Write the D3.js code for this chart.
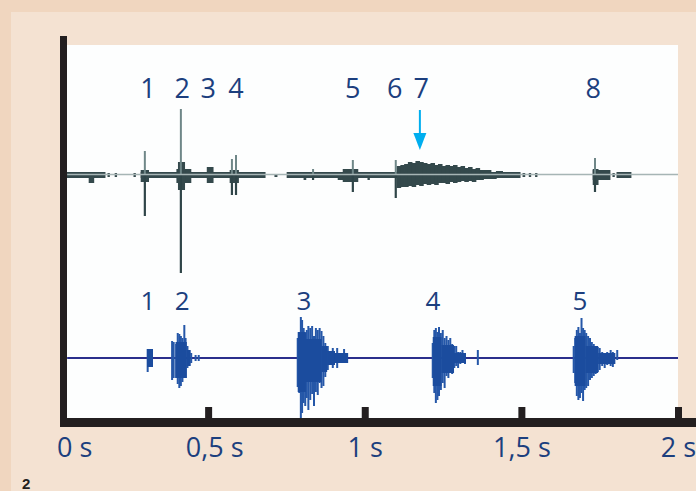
<!DOCTYPE html>
<html><head><meta charset="utf-8">
<script src="https://cdn.jsdelivr.net/npm/d3@7"></script>
<style>body{margin:0;background:#f0d6bf;} svg{display:block}</style>
</head><body><svg id="c" width="696" height="491"></svg>
<script>
// ---------- data ----------
const timeTicks = [0, 0.5, 1, 1.5, 2];
const tickLabels = ["0 s", "0,5 s", "1 s", "1,5 s", "2 s"];
const traceSpan = [0.05, 2.0];

const topLabelText = ["1", "2", "3", "4", "5", "6", "7", "8"];
const topLabelTimes = [0.308, 0.417, 0.500, 0.589, 0.962, 1.096, 1.180, 1.729];
const arrowTime = 1.176;

const bottomLabelText = ["1", "2", "3", "4", "5"];
const bottomLabelTimes = [0.308, 0.417, 0.806, 1.218, 1.687];

// top trace blocks: [t0, t1, up, down] (relative amplitude)
const topBlocks = [
  [0.049, 0.171, 0.03, 0.03], [0.120, 0.135, 0.03, 0.08],
  [0.180, 0.185, 0.02, 0.02], [0.203, 0.208, 0.02, 0.02], [0.263, 0.268, 0.02, 0.02],
  [0.286, 0.682, 0.03, 0.03], [0.286, 0.310, 0.05, 0.07],
  [0.400, 0.445, 0.06, 0.08], [0.405, 0.425, 0.13, 0.15],
  [0.497, 0.516, 0.08, 0.08], [0.570, 0.597, 0.05, 0.08],
  [0.713, 0.720, 0.00, 0.02],
  [0.752, 1.496, 0.03, 0.03], [0.806, 0.812, 0.03, 0.05], [0.915, 0.930, 0.03, 0.05],
  [0.931, 0.978, 0.06, 0.07], [1.010, 1.015, 0.03, 0.05],
  [1.103, 1.115, 0.09, 0.13], [1.115, 1.127, 0.10, 0.12], [1.127, 1.139, 0.11, 0.12],
  [1.139, 1.151, 0.13, 0.11], [1.151, 1.163, 0.12, 0.12], [1.163, 1.175, 0.14, 0.10],
  [1.175, 1.187, 0.13, 0.11], [1.187, 1.199, 0.12, 0.09], [1.199, 1.211, 0.11, 0.10],
  [1.211, 1.223, 0.12, 0.09], [1.223, 1.235, 0.10, 0.10], [1.235, 1.247, 0.11, 0.08],
  [1.247, 1.259, 0.09, 0.08], [1.259, 1.271, 0.10, 0.09], [1.271, 1.283, 0.09, 0.07],
  [1.283, 1.295, 0.10, 0.08], [1.295, 1.307, 0.08, 0.07], [1.307, 1.319, 0.09, 0.06],
  [1.319, 1.331, 0.07, 0.07], [1.331, 1.343, 0.08, 0.06], [1.343, 1.355, 0.06, 0.07],
  [1.355, 1.367, 0.07, 0.05], [1.367, 1.379, 0.05, 0.05], [1.379, 1.403, 0.05, 0.04],
  [1.403, 1.420, 0.03, 0.04], [1.420, 1.440, 0.04, 0.03],
  [1.505, 1.511, 0.02, 0.02], [1.525, 1.530, 0.02, 0.02], [1.545, 1.550, 0.02, 0.02],
  [1.729, 1.783, 0.05, 0.05], [1.729, 1.745, 0.06, 0.10],
  [1.792, 1.797, 0.02, 0.02], [1.805, 1.850, 0.03, 0.03]
];
// top trace spikes: [t, up, down]
const topSpikes = [
  [0.298, 0.24, 0.41], [0.413, 0.66, 0.98], [0.576, 0.16, 0.20], [0.589, 0.20, 0.20],
  [0.835, 0.06, 0.05], [0.962, 0.15, 0.17], [1.099, 0.15, 0.23], [1.735, 0.17, 0.17]
];

// bottom trace cores: [t0, t1, up, down]
const bottomBlocks = [
  [0.305, 0.324, 0.09, 0.09],
  [0.396, 0.432, 0.16, 0.20], [0.432, 0.444, 0.08, 0.08],
  [0.786, 0.812, 0.26, 0.34], [0.812, 0.862, 0.19, 0.24], [0.862, 0.880, 0.12, 0.14],
  [0.880, 0.905, 0.07, 0.07], [0.905, 0.947, 0.05, 0.05],
  [1.217, 1.245, 0.21, 0.28], [1.245, 1.285, 0.13, 0.15], [1.285, 1.323, 0.05, 0.05],
  [1.670, 1.705, 0.22, 0.28], [1.705, 1.745, 0.12, 0.15], [1.745, 1.800, 0.05, 0.06]
];
// bottom trace lines: [t, up, down]
const bottomSpikes = [
  [0.307, 0.09, 0.14],
  [0.385, 0.17, 0.22], [0.390, 0.16, 0.20], [0.398, 0.14, 0.20], [0.403, 0.25, 0.26],
  [0.408, 0.24, 0.30], [0.413, 0.22, 0.28], [0.418, 0.20, 0.24], [0.424, 0.33, 0.18],
  [0.428, 0.20, 0.20], [0.434, 0.12, 0.10], [0.440, 0.08, 0.08], [0.446, 0.05, 0.05],
  [0.460, 0.03, 0.03], [0.470, 0.03, 0.03],
  [0.786, 0.20, 0.29], [0.791, 0.22, 0.35], [0.796, 0.41, 0.62], [0.800, 0.38, 0.55],
  [0.805, 0.30, 0.45], [0.810, 0.25, 0.48], [0.815, 0.28, 0.40], [0.820, 0.32, 0.52],
  [0.826, 0.30, 0.42], [0.832, 0.32, 0.36], [0.838, 0.22, 0.48], [0.844, 0.30, 0.34],
  [0.850, 0.28, 0.37], [0.856, 0.30, 0.25], [0.862, 0.27, 0.30], [0.868, 0.22, 0.28],
  [0.874, 0.15, 0.19], [0.882, 0.12, 0.12], [0.898, 0.10, 0.10], [0.912, 0.10, 0.10],
  [0.934, 0.09, 0.05],
  [1.217, 0.15, 0.20], [1.222, 0.28, 0.35], [1.227, 0.30, 0.45], [1.232, 0.26, 0.42],
  [1.237, 0.31, 0.38], [1.243, 0.25, 0.32], [1.249, 0.28, 0.25], [1.255, 0.20, 0.30],
  [1.261, 0.22, 0.18], [1.267, 0.18, 0.20], [1.273, 0.20, 0.14], [1.279, 0.14, 0.16],
  [1.286, 0.12, 0.10], [1.292, 0.12, 0.08], [1.298, 0.06, 0.10], [1.305, 0.06, 0.06],
  [1.312, 0.08, 0.05], [1.320, 0.05, 0.06], [1.361, 0.08, 0.07],
  [1.667, 0.12, 0.15], [1.672, 0.20, 0.25], [1.677, 0.28, 0.38], [1.682, 0.31, 0.42],
  [1.687, 0.25, 0.40], [1.692, 0.40, 0.35], [1.697, 0.30, 0.43], [1.702, 0.28, 0.32],
  [1.707, 0.25, 0.30], [1.713, 0.22, 0.28], [1.719, 0.20, 0.22], [1.725, 0.16, 0.20],
  [1.731, 0.14, 0.18], [1.737, 0.12, 0.16], [1.744, 0.11, 0.14], [1.750, 0.10, 0.12],
  [1.758, 0.06, 0.08], [1.766, 0.05, 0.10], [1.774, 0.06, 0.07], [1.785, 0.08, 0.08],
  [1.792, 0.06, 0.09], [1.806, 0.08, 0.02]
];

// ---------- drawing ----------
const svg = d3.select("#c");
const font = "'Open Sans', 'Noto Sans', sans-serif";
const blue = "#1c3f7e";

svg.append("rect").attr("x", 0).attr("y", 0).attr("width", 696).attr("height", 491).attr("fill", "#f0d6bf");
svg.append("rect").attr("x", 11).attr("y", 12).attr("width", 685).attr("height", 479).attr("fill", "#f4e2d2");
svg.append("rect").attr("x", 67).attr("y", 45).attr("width", 611).attr("height", 373).attr("fill", "#fdfefe");

const x = d3.scaleLinear().domain([0, 2]).range([51.5, 678]);
const yTop = d3.scaleLinear().domain([-1, 1]).range([275, 75]);
const yBot = d3.scaleLinear().domain([-1, 1]).range([458, 258]);

// top trace
const gTop = svg.append("g");
gTop.selectAll("rect").data(topBlocks).join("rect")
  .attr("x", d => x(d[0]) - 0.4).attr("width", d => Math.max(1, x(d[1]) - x(d[0]) + 0.8))
  .attr("y", d => yTop(d[2])).attr("height", d => yTop(-d[3]) - yTop(d[2]))
  .attr("fill", "#34494c");
gTop.selectAll("line.up").data(topSpikes).join("line").attr("class", "up")
  .attr("x1", d => x(d[0])).attr("x2", d => x(d[0]))
  .attr("y1", d => yTop(d[1])).attr("y2", yTop(0))
  .attr("stroke", "#6f8788").attr("stroke-width", 2);
gTop.selectAll("line.dn").data(topSpikes).join("line").attr("class", "dn")
  .attr("x1", d => x(d[0])).attr("x2", d => x(d[0]))
  .attr("y1", yTop(0)).attr("y2", d => yTop(-d[2]))
  .attr("stroke", "#2f4548").attr("stroke-width", 2.2);
gTop.append("line")
  .attr("x1", x(traceSpan[0])).attr("x2", x(traceSpan[1]))
  .attr("y1", yTop(0) - 0.5).attr("y2", yTop(0) - 0.5)
  .attr("stroke", "#a6b5b5").attr("stroke-width", 1.6);

// bottom trace
const gBot = svg.append("g");
gBot.append("line")
  .attr("x1", x(traceSpan[0])).attr("x2", x(traceSpan[1]))
  .attr("y1", yBot(0)).attr("y2", yBot(0))
  .attr("stroke", "#2a2f8c").attr("stroke-width", 1.8);
gBot.selectAll("line.sp").data(bottomSpikes).join("line").attr("class", "sp")
  .attr("x1", d => x(d[0])).attr("x2", d => x(d[0]))
  .attr("y1", d => yBot(d[1])).attr("y2", d => yBot(-d[2]))
  .attr("stroke", "#2557a8").attr("stroke-width", 2);
gBot.selectAll("rect").data(bottomBlocks).join("rect")
  .attr("x", d => x(d[0])).attr("width", d => x(d[1]) - x(d[0]))
  .attr("y", d => yBot(d[2])).attr("height", d => yBot(-d[3]) - yBot(d[2]))
  .attr("fill", "#1b4c9e");

// labels
svg.append("g").selectAll("text").data(topLabelText).join("text")
  .attr("x", (d, i) => x(topLabelTimes[i])).attr("y", 98)
  .attr("text-anchor", "middle").attr("font-family", font).attr("font-size", 27)
  .attr("fill", blue).text(d => d);
svg.append("g").selectAll("text").data(bottomLabelText).join("text")
  .attr("x", (d, i) => x(bottomLabelTimes[i])).attr("y", 310)
  .attr("text-anchor", "middle").attr("font-family", font).attr("font-size", 26)
  .attr("fill", blue).text(d => d);

// arrow
const ax = x(arrowTime);
svg.append("line").attr("x1", ax).attr("x2", ax).attr("y1", 110).attr("y2", 136)
  .attr("stroke", "#00aeef").attr("stroke-width", 2);
svg.append("path").attr("d", `M${ax - 6.5},133 L${ax + 6.5},133 L${ax},150 Z`).attr("fill", "#00aeef");

// axes
svg.append("rect").attr("x", 60).attr("y", 36).attr("width", 7).attr("height", 391).attr("fill", "#231f20");
svg.append("rect").attr("x", 60).attr("y", 418).attr("width", 636).attr("height", 9).attr("fill", "#231f20");

const axis = d3.axisBottom(x).tickValues(timeTicks).tickSize(-11)
  .tickFormat((d, i) => tickLabels[i]);
const gAx = svg.append("g").attr("transform", "translate(0,418)").call(axis);
gAx.select(".domain").remove();
gAx.selectAll(".tick line").attr("stroke", "#231f20").attr("stroke-width", 7)
  .attr("display", d => d === 0 ? "none" : null);
gAx.selectAll(".tick text").attr("font-family", font).attr("font-size", 27)
  .attr("fill", blue).attr("dy", null).attr("y", 39)
  .attr("text-anchor", d => d === 0 ? "start" : "middle")
  .attr("dx", d => d === 0 ? 5 : (d === 0.5 ? 6 : 0));

// figure number
svg.append("text").attr("x", 22).attr("y", 489).attr("font-family", "'Liberation Sans', Arial, sans-serif")
  .attr("font-weight", "bold").attr("font-size", 15).attr("fill", "#231f20").text("2");
</script>
</body></html>
